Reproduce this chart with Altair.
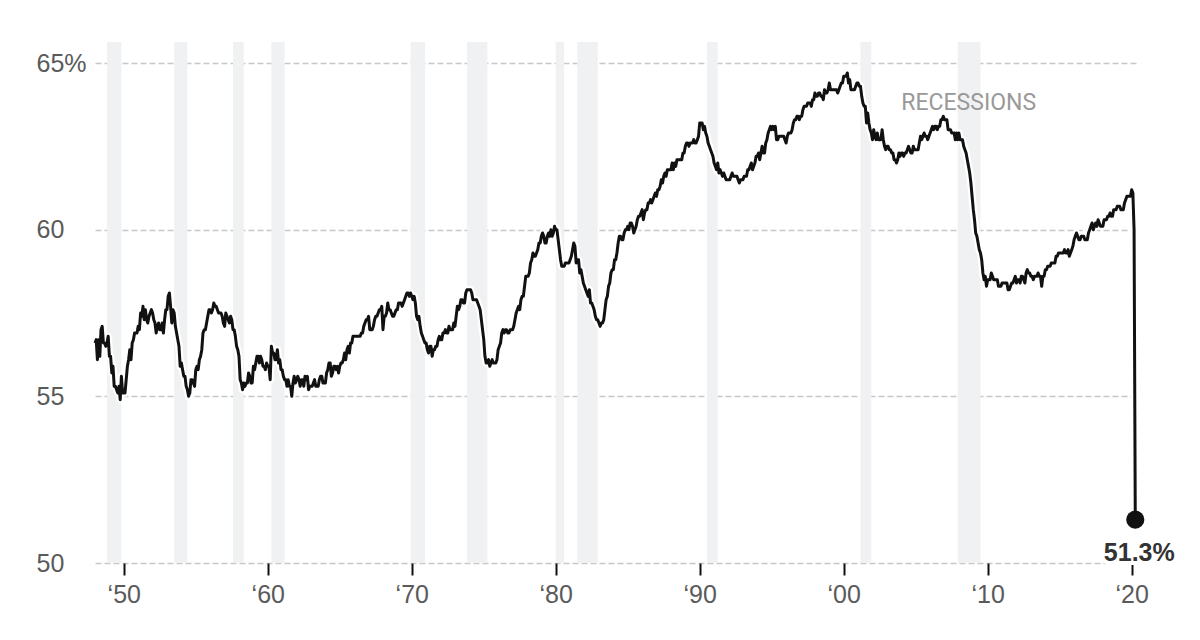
import altair as alt
import pandas as pd

START_YEAR = 1948

ratio_1948_1949 = [
    56.6, 56.7, 56.1, 56.7, 56.2, 57.0, 57.1, 56.6, 56.6, 56.5, 56.6, 56.8,
    56.2, 56.2, 55.7, 55.9, 55.3, 55.3, 55.2, 55.1, 55.3, 54.9, 55.6, 55.1,
]
ratio_1950s = [
    55.1, 55.1, 55.5, 55.9, 56.1, 56.4, 56.1, 56.6, 56.7, 56.9, 56.9, 56.9,
    57.1, 57.0, 57.5, 57.4, 57.7, 57.3, 57.6, 57.3, 57.2, 57.4, 57.5, 57.6,
    57.5, 57.3, 57.2, 56.9, 57.1, 57.2, 57.0, 57.0, 57.2, 56.9, 57.3, 57.6,
    57.6, 58.0, 58.1, 57.7, 57.2, 57.6, 57.5, 57.1, 56.9, 56.7, 56.5, 55.9,
    56.0, 55.8, 55.6, 55.6, 55.3, 55.2, 55.0, 55.1, 55.5, 55.5, 55.4, 55.3,
    55.8, 55.9, 55.8, 56.1, 56.2, 56.4, 56.9, 57.0, 57.0, 57.2, 57.4, 57.6,
    57.6, 57.5, 57.6, 57.8, 57.7, 57.7, 57.6, 57.5, 57.5, 57.5, 57.4, 57.2,
    57.1, 57.5, 57.4, 57.3, 57.2, 57.4, 57.3, 57.0, 57.0, 56.8, 56.5, 56.4,
    56.2, 55.5, 55.4, 55.2, 55.4, 55.3, 55.4, 55.4, 55.7, 55.6, 55.4, 55.4,
    55.9, 55.8, 56.0, 56.2, 56.2, 56.0, 56.2, 56.1, 55.9, 55.9, 55.8, 56.0,
]
ratio_1960s = [
    55.9, 55.9, 55.5, 56.5, 56.3, 56.3, 56.1, 56.1, 56.4, 56.0, 56.1, 55.8,
    55.8, 55.6, 55.5, 55.5, 55.3, 55.5, 55.3, 55.3, 55.0, 55.4, 55.6, 55.4,
    55.5, 55.6, 55.5, 55.3, 55.5, 55.5, 55.3, 55.6, 55.5, 55.6, 55.2, 55.3,
    55.3, 55.3, 55.4, 55.5, 55.3, 55.3, 55.3, 55.5, 55.6, 55.6, 55.4, 55.4,
    55.4, 55.7, 55.8, 56.0, 56.0, 55.6, 55.7, 55.9, 55.9, 55.8, 55.9, 55.7,
    55.9, 56.0, 56.0, 56.1, 56.3, 56.1, 56.4, 56.5, 56.3, 56.6, 56.6, 56.8,
    56.8, 56.8, 56.8, 56.8, 56.8, 56.8, 56.9, 56.9, 57.1, 57.2, 57.3, 57.3,
    57.4, 57.0, 57.0, 57.0, 57.1, 57.3, 57.4, 57.4, 57.5, 57.6, 57.6, 57.7,
    57.0, 57.4, 57.4, 57.5, 57.8, 57.6, 57.6, 57.5, 57.4, 57.4, 57.5, 57.6,
    57.6, 57.8, 57.8, 57.8, 57.7, 57.8, 57.9, 58.0, 58.1, 58.1, 58.0, 58.1,
]
ratio_1970s = [
    58.0, 57.9, 58.0, 57.8, 57.4, 57.3, 57.4, 57.1, 56.9, 56.8, 56.7, 56.6,
    56.6, 56.4, 56.3, 56.5, 56.5, 56.2, 56.4, 56.4, 56.5, 56.5, 56.7, 56.8,
    56.7, 56.7, 56.9, 56.9, 57.0, 56.9, 56.9, 57.1, 57.0, 57.0, 57.0, 57.2,
    57.1, 57.4, 57.7, 57.6, 57.7, 57.9, 57.9, 57.8, 57.8, 58.1, 58.2, 58.2,
    58.2, 58.2, 58.1, 57.9, 57.9, 57.9, 57.9, 57.8, 57.7, 57.6, 57.3, 57.0,
    56.7, 56.2, 56.0, 56.0, 56.1, 55.9, 56.0, 56.1, 56.0, 56.0, 56.0, 56.1,
    56.4, 56.5, 56.6, 56.9, 57.0, 56.9, 57.0, 57.0, 56.9, 56.9, 57.0, 57.0,
    57.0, 57.1, 57.3, 57.5, 57.6, 57.7, 57.6, 57.9, 58.0, 58.0, 58.3, 58.6,
    58.6, 58.6, 58.7, 59.0, 59.1, 59.3, 59.2, 59.2, 59.3, 59.4, 59.6, 59.6,
    59.8, 59.9, 59.8, 59.6, 59.6, 59.8, 59.9, 59.8, 60.0, 59.8, 59.9, 60.1,
]
ratio_1980s = [
    60.0, 60.0, 59.7, 59.4, 59.1, 58.9, 58.9, 58.9, 59.0, 59.0, 59.0, 59.0,
    59.1, 59.2, 59.4, 59.6, 59.5, 59.0, 59.1, 59.1, 58.7, 58.8, 58.6, 58.4,
    58.3, 58.2, 58.1, 58.0, 58.2, 57.8, 57.8, 57.7, 57.6, 57.4, 57.3, 57.3,
    57.2, 57.1, 57.2, 57.2, 57.3, 57.6, 57.9, 58.0, 58.3, 58.4, 58.7, 58.8,
    58.8, 59.1, 59.1, 59.3, 59.6, 59.8, 59.8, 59.7, 59.7, 59.9, 60.0, 60.0,
    60.1, 60.0, 60.2, 60.2, 60.1, 59.9, 60.0, 60.1, 60.3, 60.4, 60.4, 60.5,
    60.6, 60.3, 60.5, 60.6, 60.6, 60.8, 60.8, 60.9, 60.8, 60.9, 61.0, 61.1,
    61.0, 61.2, 61.2, 61.3, 61.5, 61.4, 61.6, 61.7, 61.6, 61.8, 61.8, 61.8,
    61.8, 62.0, 61.8, 62.0, 61.9, 62.1, 62.1, 62.1, 62.1, 62.1, 62.3, 62.3,
    62.5, 62.6, 62.6, 62.5, 62.6, 62.6, 62.6, 62.7, 62.6, 62.6, 62.7, 62.8,
]
ratio_1990s = [
    63.2, 63.2, 63.2, 63.0, 63.1, 62.9, 62.8, 62.6, 62.5, 62.4, 62.3, 62.2,
    62.0, 61.9, 61.8, 62.0, 61.7, 61.8, 61.7, 61.6, 61.7, 61.6, 61.5, 61.5,
    61.5, 61.5, 61.6, 61.7, 61.6, 61.6, 61.6, 61.6, 61.5, 61.4, 61.5, 61.5,
    61.5, 61.6, 61.6, 61.6, 61.8, 61.8, 61.9, 62.0, 61.8, 61.9, 62.0, 62.2,
    62.2, 62.3, 62.1, 62.3, 62.5, 62.3, 62.3, 62.6, 62.7, 62.9, 63.0, 63.1,
    63.0, 63.1, 63.0, 63.1, 62.7, 62.7, 62.8, 62.8, 62.8, 62.8, 62.8, 62.7,
    62.6, 62.8, 62.9, 62.9, 62.9, 63.0, 63.2, 63.3, 63.3, 63.4, 63.4, 63.3,
    63.4, 63.4, 63.6, 63.7, 63.7, 63.7, 63.8, 63.8, 63.8, 63.7, 63.9, 63.9,
    64.1, 64.0, 64.0, 64.1, 64.1, 64.0, 64.0, 63.9, 64.2, 64.1, 64.1, 64.2,
    64.4, 64.2, 64.2, 64.2, 64.2, 64.2, 64.2, 64.1, 64.2, 64.3, 64.4, 64.4,
]
ratio_2000s = [
    64.6, 64.6, 64.6, 64.7, 64.4, 64.5, 64.2, 64.2, 64.2, 64.2, 64.3, 64.4,
    64.4, 64.3, 64.3, 64.0, 63.8, 63.7, 63.7, 63.2, 63.5, 63.2, 63.0, 62.9,
    62.7, 63.0, 62.8, 62.7, 62.9, 62.7, 62.7, 62.7, 63.0, 62.7, 62.5, 62.4,
    62.5, 62.5, 62.4, 62.4, 62.3, 62.3, 62.1, 62.1, 62.0, 62.1, 62.3, 62.2,
    62.3, 62.3, 62.2, 62.3, 62.3, 62.4, 62.5, 62.4, 62.3, 62.3, 62.5, 62.4,
    62.4, 62.4, 62.4, 62.6, 62.8, 62.7, 62.8, 62.9, 62.8, 62.8, 62.7, 62.8,
    62.9, 63.0, 63.1, 63.0, 63.1, 63.1, 63.0, 63.1, 63.1, 63.3, 63.3, 63.4,
    63.3, 63.3, 63.3, 63.0, 63.0, 63.0, 62.9, 62.9, 62.9, 62.7, 62.9, 62.7,
    62.9, 62.7, 62.7, 62.7, 62.5, 62.4, 62.3, 62.1, 61.9, 61.7, 61.4, 61.0,
    60.6, 60.3, 59.9, 59.8, 59.6, 59.4, 59.3, 59.1, 58.7, 58.5, 58.6, 58.3,
]
ratio_2010s = [
    58.5, 58.5, 58.5, 58.7, 58.6, 58.5, 58.5, 58.5, 58.5, 58.3, 58.3, 58.3,
    58.4, 58.4, 58.4, 58.4, 58.4, 58.2, 58.2, 58.3, 58.4, 58.4, 58.5, 58.6,
    58.4, 58.5, 58.5, 58.4, 58.6, 58.6, 58.5, 58.4, 58.7, 58.8, 58.7, 58.7,
    58.6, 58.6, 58.5, 58.6, 58.6, 58.6, 58.7, 58.6, 58.6, 58.3, 58.6, 58.6,
    58.8, 58.8, 58.9, 58.9, 58.9, 59.0, 59.0, 59.0, 59.0, 59.2, 59.2, 59.3,
    59.3, 59.3, 59.3, 59.3, 59.4, 59.3, 59.3, 59.4, 59.2, 59.3, 59.4, 59.5,
    59.7, 59.8, 59.9, 59.8, 59.7, 59.7, 59.8, 59.8, 59.8, 59.7, 59.7, 59.7,
    59.9, 60.0, 60.1, 60.2, 60.0, 60.1, 60.2, 60.1, 60.3, 60.2, 60.1, 60.1,
    60.1, 60.3, 60.3, 60.3, 60.4, 60.4, 60.5, 60.4, 60.4, 60.6, 60.6, 60.6,
    60.7, 60.7, 60.7, 60.6, 60.6, 60.6, 60.8, 60.9, 61.0, 61.0, 61.0, 61.0,
]
ratio_2020 = [61.2, 61.1, 60.0, 51.3]

# NBER recessions (year, month) peak -> trough
rec_start = [(1948, 11), (1953, 7), (1957, 8), (1960, 4), (1969, 12), (1973, 11),
             (1980, 1), (1981, 7), (1990, 7), (2001, 3), (2007, 12)]
rec_end = [(1949, 10), (1954, 5), (1958, 4), (1961, 2), (1970, 11), (1975, 3),
           (1980, 7), (1982, 11), (1991, 3), (2001, 11), (2009, 6)]

y_ticks = [50, 55, 60, 65]
x_ticks = [1950, 1960, 1970, 1980, 1990, 2000, 2010, 2020]
recession_label = "RECESSIONS"
last_label = "51.3%"

values = (ratio_1948_1949 + ratio_1950s + ratio_1960s + ratio_1970s +
          ratio_1980s + ratio_1990s + ratio_2000s + ratio_2010s + ratio_2020)
df = pd.DataFrame({
    "t": [START_YEAR + i / 12 for i in range(len(values))],
    "v": values,
})
rec = pd.DataFrame({
    "s": [y + (m - 1) / 12 for y, m in rec_start],
    "e": [y + m / 12 for y, m in rec_end],
})
last = df.tail(1).assign(label=last_label)
lab = pd.DataFrame({"t": [2004.0], "v": [63.8], "label": [recession_label]})

FONT = "Liberation Sans"
xs = alt.Scale(domain=[1948, 2020.3], nice=False, zero=False)
ys = alt.Scale(domain=[50, 65.63], nice=False, zero=False)

x_axis = alt.Axis(values=x_ticks, title=None, grid=False, domain=False,
                  tickColor="#111", tickSize=12, tickWidth=2,
                  labelExpr="'\u2018' + substring(toString(datum.value), 2)",
                  labelFont=FONT, labelFontSize=25, labelColor="#5a5a5a",
                  labelPadding=7)
y_axis = alt.Axis(values=y_ticks, title=None, domain=False, ticks=False,
                  grid=True, gridDash=[6, 3], gridColor="#c8c8c8", gridWidth=1.6,
                  labelExpr="datum.value == 65 ? '65%' : datum.value",
                  labelAlign="left", labelBaseline="middle", labelPadding=59,
                  labelFont=FONT, labelFontSize=25, labelColor="#5a5a5a")

bands = alt.Chart(rec).mark_rect(color="#f0f1f3").encode(
    x=alt.X("s:Q", scale=xs, axis=x_axis),
    x2="e:Q",
)
axes_layer = alt.Chart(df).mark_line(opacity=0).encode(
    x=alt.X("t:Q", scale=xs, axis=x_axis),
    y=alt.Y("v:Q", scale=ys, axis=y_axis),
)
halo = alt.Chart(df).mark_line(color="white", strokeWidth=7.5, strokeJoin="round").encode(
    x=alt.X("t:Q", scale=xs), y=alt.Y("v:Q", scale=ys))
line = alt.Chart(df).mark_line(color="#111", strokeWidth=3, strokeJoin="round").encode(
    x=alt.X("t:Q", scale=xs), y=alt.Y("v:Q", scale=ys))
dot = alt.Chart(last).mark_circle(color="#111", size=330, opacity=1).encode(
    x=alt.X("t:Q", scale=xs), y=alt.Y("v:Q", scale=ys))
end_halo = alt.Chart(last).mark_text(
    font=FONT, fontSize=25, fontWeight="bold", color="white", stroke="white",
    strokeWidth=8, dx=4, dy=33, baseline="middle", align="center").encode(
    x=alt.X("t:Q", scale=xs), y=alt.Y("v:Q", scale=ys), text="label:N")
end_text = alt.Chart(last).mark_text(
    font=FONT, fontSize=25, fontWeight="bold", color="#333",
    dx=4, dy=33, baseline="middle", align="center").encode(
    x=alt.X("t:Q", scale=xs), y=alt.Y("v:Q", scale=ys), text="label:N")
rec_text = alt.Chart(lab).mark_text(
    font="Roboto", fontSize=23, color="#999", align="left", baseline="middle").encode(
    x=alt.X("t:Q", scale=xs), y=alt.Y("v:Q", scale=ys), text="label:N")

chart = alt.layer(bands, axes_layer, halo, line, dot, end_halo, end_text, rec_text).properties(
    width=1041, height=521,
    padding={"left": 95, "top": 42, "right": 64, "bottom": 77},
    autosize="none",
    background="white",
).configure_view(stroke=None)

chart.save("out.html", embed_options={"renderer": "svg", "actions": False})
